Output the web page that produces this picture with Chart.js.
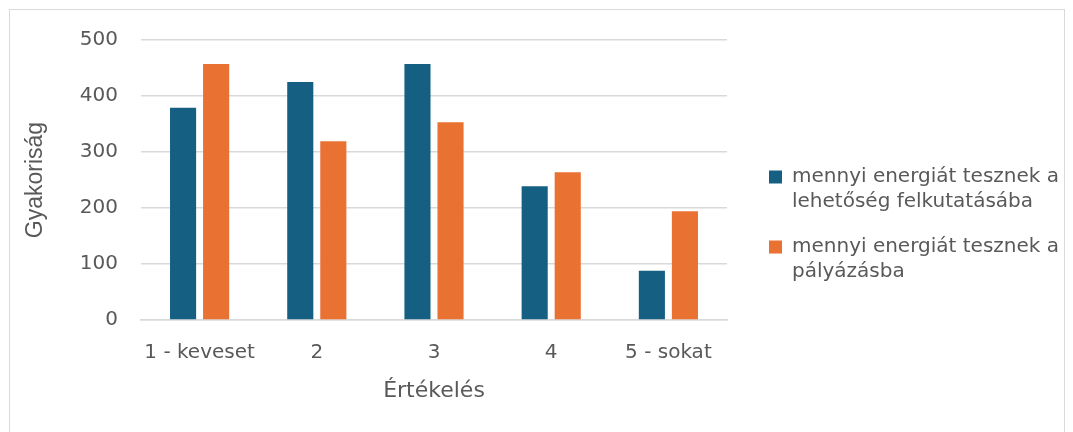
<!DOCTYPE html>
<html>
<head>
    <title>Értékelés</title>
    <script src="https://cdn.jsdelivr.net/npm/chart.js"></script>
    <style>
        body { margin: 0; background: #fff; }
        #box { position: absolute; left: 9px; top: 9px; width: 1054px; height: 440px; border: 1px solid #d9d9d9; }
    </style>
</head>
<body>
    <div id="box"><canvas id="barChart" width="1054" height="440"></canvas></div>

    <script>
        // data
        const categories = ['1 - keveset', '2', '3', '4', '5 - sokat'];
        const seriesNames = [
            ['mennyi energiát tesznek a', 'lehetőség felkutatásába'],
            ['mennyi energiát tesznek a', 'pályázásba']
        ];
        const searchValues = [379, 425, 457, 239, 88];
        const applyValues = [457, 319, 353, 264, 194];
        const yTicks = [0, 100, 200, 300, 400, 500];

        const textColor = '#595959';
        const font = 'DejaVu Sans';

        // legend: fixed width, then nudged to where the reference has it
        const legendPlace = {
            id: 'legendPlace',
            beforeInit(chart) {
                const fit = chart.legend.fit;
                chart.legend.fit = function () {
                    fit.call(this);
                    this.width = 337;
                };
            },
            afterLayout(chart) {
                const lg = chart.legend;
                lg.left += 22; lg.right += 22;
                lg.top += 3; lg.bottom += 3;
            }
        };

        const ctx = document.getElementById('barChart').getContext('2d');
        new Chart(ctx, {
            type: 'bar',
            data: {
                labels: categories,
                datasets: [
                    {
                        label: seriesNames[0],
                        data: searchValues,
                        backgroundColor: '#156082'
                    },
                    {
                        label: seriesNames[1],
                        data: applyValues,
                        backgroundColor: '#E97132'
                    }
                ]
            },
            options: {
                responsive: false,
                animation: false,
                categoryPercentage: 0.564,
                barPercentage: 0.79,
                layout: { padding: { top: 30, bottom: 42, left: 0, right: 0 } },
                scales: {
                    x: {
                        grid: { display: false, drawTicks: false },
                        border: { display: true, color: '#d9d9d9', width: 1.5 },
                        ticks: { color: textColor, font: { family: font, size: 20 }, padding: 21 },
                        title: {
                            display: true,
                            text: 'Értékelés',
                            color: textColor,
                            font: { family: font, size: 22 },
                            padding: { top: 8, bottom: 4 }
                        },
                        afterFit(scale) { scale.height = 88; }
                    },
                    y: {
                        min: 0,
                        max: 500,
                        afterBuildTicks(scale) { scale.ticks = yTicks.map(v => ({ value: v })); },
                        grid: { color: '#d9d9d9', lineWidth: 1.5, drawTicks: false, tickLength: 0 },
                        border: { display: false },
                        ticks: { color: textColor, font: { family: font, size: 20 }, padding: 23 },
                        title: {
                            display: true,
                            text: 'Gyakoriság',
                            color: textColor,
                            font: { family: 'Liberation Sans', size: 23 },
                            padding: { top: 12, bottom: 0 }
                        },
                        afterFit(scale) {
                            scale.width = 131;
                            // tick padding should not push the plot down
                            scale.paddingTop = 12;
                            scale.paddingBottom = 12;
                        }
                    }
                },
                plugins: {
                    legend: {
                        position: 'right',
                        align: 'center',
                        labels: {
                            color: textColor,
                            font: { family: font, size: 20, lineHeight: 1.25 },
                            boxWidth: 13,
                            boxHeight: 13,
                            padding: 20
                        }
                    },
                    tooltip: { enabled: true }
                }
            },
            plugins: [legendPlace]
        });
    </script>
</body>
</html>
